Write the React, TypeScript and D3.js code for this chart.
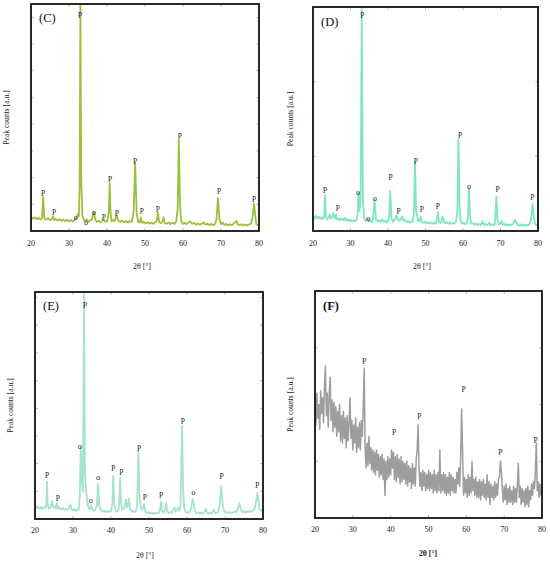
import React from "react";
import * as d3 from "d3";

const xTicks = [20, 30, 40, 50, 60, 70, 80];

// Panel C: [2θ, intensity % of full scale]
const dataC: [number, number][] = [[20,6.2],[20.5,5.4],[21,6.0],[21.5,5.2],[22,5.8],[22.5,5.0],[22.9,5.6],[23.2,15],[23.5,5.4],[24,5.0],[24.5,5.6],[25,4.8],[25.5,5.4],[25.8,6.5],[26.1,4.9],[26.5,5.3],[27,4.6],[27.5,5.2],[28,4.5],[28.5,5.0],[29,4.4],[29.5,4.9],[30,4.3],[30.5,4.8],[31,4.2],[31.5,4.8],[32,6.0],[32.3,7.5],[32.6,6.5],[32.8,20],[33.0,100],[33.2,25],[33.5,7],[33.9,5.0],[34.3,4.2],[34.7,5.2],[35.1,4.0],[35.6,4.6],[36.1,5.5],[36.5,8.5],[36.9,5.2],[37.3,4.0],[37.8,4.5],[38.3,3.8],[38.8,4.6],[39.2,5.0],[39.6,4.0],[40.1,4.4],[40.5,9],[40.7,21],[40.9,9],[41.2,4.2],[41.6,4.8],[42.0,4.4],[42.5,7],[43.0,4.5],[43.5,4.0],[44.0,4.6],[44.5,3.8],[45.0,4.4],[45.5,3.7],[46.0,4.3],[46.5,4.0],[47.0,8],[47.4,30],[47.8,8],[48.2,4.0],[48.6,3.8],[48.9,6],[49.2,3.6],[49.7,4.0],[50.2,3.3],[50.7,3.8],[51.2,3.2],[51.7,3.7],[52.2,3.2],[52.7,3.8],[53.1,4.5],[53.4,8],[53.7,4.0],[54.2,3.4],[54.6,4.2],[54.9,6],[55.2,3.5],[55.7,3.2],[56.2,3.8],[56.7,3.1],[57.2,3.6],[57.7,3.2],[58.2,4.0],[58.6,10],[58.9,40],[59.2,12],[59.5,4.5],[59.9,3.2],[60.4,3.6],[60.9,3.0],[61.4,3.8],[61.9,4.2],[62.4,3.2],[62.9,3.6],[63.4,2.8],[63.9,3.3],[64.4,2.7],[64.9,3.2],[65.4,3.8],[65.9,2.8],[66.4,3.2],[66.9,2.6],[67.4,3.1],[67.9,2.6],[68.4,3.0],[68.8,5],[69.2,14.5],[69.6,5],[70.0,3.0],[70.4,3.8],[70.8,2.7],[71.3,3.1],[71.8,2.5],[72.3,3.0],[72.8,2.6],[73.3,3.1],[73.7,4.0],[74.0,4.5],[74.4,3.0],[74.9,2.6],[75.4,3.0],[75.9,2.4],[76.4,2.9],[76.9,2.4],[77.4,2.9],[77.9,3.2],[78.3,6],[78.7,12],[79.0,7],[79.3,3.0],[79.7,2.6],[80,2.8]];
const labelsC: [number, number, string][] = [[32.9,95.2,"P"],[23.2,16.7,"P"],[26.05,8.4,"P"],[31.8,6.2,"o"],[34.5,4.0,"o"],[36.6,8.4,"o"],[39.2,6.2,"P"],[40.8,22.9,"P"],[42.6,7.9,"P"],[47.4,30.5,"P"],[49.2,8.8,"P"],[53.4,9.7,"P"],[59.2,41.9,"P"],[69.5,17.6,"P"],[78.7,14.1,"P"]];

// Panel D
const dataD: [number, number][] = [[20,6.5],[20.4,5.5],[20.8,6.8],[21.2,5.6],[21.6,6.4],[22,5.4],[22.4,6.2],[22.8,5.6],[23.0,7],[23.2,16],[23.4,6.5],[23.8,5.2],[24.2,6.0],[24.5,7.5],[24.8,5.5],[25.2,6.2],[25.5,8],[25.8,5.6],[26.1,7.2],[26.4,5.0],[26.8,5.8],[27.2,4.8],[27.6,5.6],[28,4.8],[28.4,5.8],[28.8,4.6],[29.2,5.4],[29.6,4.4],[30,5.0],[30.4,4.2],[30.8,4.8],[31.2,4.3],[31.6,5.0],[31.9,8],[32.15,17],[32.4,9],[32.7,14],[33.0,100],[33.3,15],[33.6,6],[34.0,4.5],[34.3,5.0],[34.6,5.6],[34.9,4.2],[35.3,4.6],[35.7,4.0],[36.0,5.0],[36.4,14],[36.8,5.2],[37.2,4.2],[37.6,4.8],[38.0,4.0],[38.4,5.2],[38.8,4.2],[39.2,4.6],[39.6,3.8],[40.0,4.4],[40.3,6],[40.6,18],[40.9,6],[41.3,4.2],[41.7,5.0],[42.0,5.5],[42.3,7],[42.7,5.0],[43.1,4.5],[43.5,5.5],[43.8,6.5],[44.1,4.8],[44.5,5.2],[44.9,4.0],[45.3,4.4],[45.7,3.8],[46.1,4.2],[46.5,4.0],[46.9,7],[47.2,31],[47.5,9],[47.8,6.5],[48.1,4.2],[48.4,4.5],[48.7,6.5],[49.0,4.0],[49.4,3.6],[49.8,4.2],[50.2,3.4],[50.6,4.0],[51.0,3.3],[51.4,3.8],[51.8,3.2],[52.2,3.8],[52.6,3.3],[53.0,4.5],[53.3,8.5],[53.6,4.0],[54.0,3.6],[54.3,4.5],[54.6,6.5],[54.9,4.0],[55.3,3.4],[55.7,3.9],[56.1,3.2],[56.5,3.8],[56.9,3.2],[57.3,3.6],[57.7,3.3],[58.1,4.0],[58.5,9],[58.8,41],[59.1,10],[59.4,4.2],[59.8,3.2],[60.2,3.8],[60.6,3.0],[61.0,3.6],[61.3,6],[61.6,19],[61.9,6],[62.2,3.2],[62.6,3.6],[63.0,2.8],[63.4,3.4],[63.8,2.7],[64.2,3.2],[64.6,2.6],[65.0,3.6],[65.2,4.2],[65.5,2.8],[65.9,3.2],[66.3,2.6],[66.7,3.1],[67.0,3.8],[67.3,2.6],[67.7,3.0],[68.1,2.5],[68.5,3.2],[68.9,15.5],[69.2,4.5],[69.6,3.0],[70.0,3.4],[70.3,4.5],[70.6,2.8],[71.0,3.2],[71.4,2.5],[71.8,3.0],[72.2,2.4],[72.6,3.0],[73.0,2.6],[73.4,3.4],[73.8,5],[74.1,4.0],[74.5,2.8],[74.9,2.4],[75.3,3.0],[75.7,2.3],[76.1,2.9],[76.5,2.3],[76.9,2.8],[77.3,2.4],[77.7,3.2],[78.1,4.5],[78.4,9],[78.6,12],[78.9,6],[79.2,3.2],[79.6,2.6],[80,3.2]];
const labelsD: [number, number, string][] = [[33.15,96.4,"P"],[23.2,18.3,"P"],[26.6,10.1,"P"],[32.0,17.5,"o"],[34.7,5.7,"o"],[36.5,14.6,"o"],[40.7,23.8,"P"],[42.8,8.9,"P"],[47.4,31.3,"P"],[49.0,9.7,"P"],[53.3,10.8,"P"],[59.2,42.9,"P"],[61.6,19.8,"o"],[69.2,18.8,"P"],[78.5,15,"P"]];

// Panel E
const dataE: [number, number][] = [[20,5.8],[20.4,4.8],[20.8,5.6],[21.2,4.6],[21.6,5.4],[22,4.4],[22.4,5.2],[22.8,4.8],[23.0,6.5],[23.15,16.5],[23.35,6],[23.7,4.6],[24.1,5.2],[24.5,8],[24.8,5.0],[25.2,5.5],[25.5,4.6],[25.8,7],[26.1,4.6],[26.5,5.0],[26.9,4.2],[27.3,4.8],[27.7,4.0],[28.1,4.6],[28.5,4.0],[28.9,4.8],[29.3,6.5],[29.6,4.2],[30.0,3.8],[30.4,4.4],[30.8,3.6],[31.2,4.2],[31.5,4.0],[31.8,10],[32.05,32],[32.3,18],[32.6,12],[32.9,99],[33.15,20],[33.4,14],[33.7,8],[34.0,5.5],[34.4,4.2],[34.8,6],[35.1,4.0],[35.5,3.6],[35.9,4.2],[36.3,6],[36.6,15.5],[36.9,6],[37.3,3.8],[37.7,3.2],[38.1,3.8],[38.5,3.0],[38.9,3.6],[39.3,3.0],[39.7,3.4],[40.1,3.6],[40.35,7],[40.6,19],[40.85,7],[41.2,3.6],[41.6,3.2],[42.0,4.2],[42.2,8],[42.4,18],[42.65,7],[42.9,4.0],[43.3,4.4],[43.6,6],[43.9,8.5],[44.2,5.0],[44.45,6],[44.7,9],[45.0,4.6],[45.4,3.2],[45.8,3.6],[46.2,3.0],[46.6,3.6],[46.9,7],[47.2,30],[47.5,10],[47.8,6],[48.1,4.0],[48.4,4.6],[48.7,6.5],[49.0,3.4],[49.4,2.6],[49.8,3.0],[50.2,2.4],[50.6,2.8],[51.0,2.2],[51.4,2.8],[51.8,2.3],[52.2,2.8],[52.6,2.6],[52.9,4],[53.2,7.5],[53.5,3.4],[53.9,3.0],[54.2,4.0],[54.5,7],[54.8,3.4],[55.2,2.6],[55.6,3.0],[56.0,2.8],[56.4,4.0],[56.7,5],[57.0,3.2],[57.4,4.2],[57.7,5],[58.0,3.6],[58.3,6],[58.7,41],[59.0,12],[59.3,4.5],[59.7,3.0],[60.1,2.6],[60.5,3.2],[60.9,3.6],[61.2,6],[61.5,9],[61.8,6],[62.1,3.4],[62.5,2.6],[62.9,3.0],[63.3,2.4],[63.7,2.9],[64.1,2.3],[64.5,2.8],[64.9,4.5],[65.2,3.0],[65.6,2.4],[66.0,2.8],[66.4,2.3],[66.8,3.6],[67.1,4.2],[67.4,2.6],[67.8,2.8],[68.2,3.2],[68.6,6],[69.0,14.5],[69.4,6],[69.8,3.4],[70.2,2.8],[70.6,3.2],[71.0,2.6],[71.4,3.0],[71.8,2.6],[72.2,3.0],[72.6,3.4],[73.0,3.0],[73.4,4.5],[73.8,7],[74.2,4.0],[74.6,3.0],[75.0,3.4],[75.4,2.8],[75.8,3.4],[76.2,3.0],[76.6,3.6],[77.0,3.2],[77.4,3.8],[77.8,4.5],[78.1,7],[78.5,11.5],[78.8,8],[79.1,4.5],[79.5,3.6],[80,4.2]];
const labelsE: [number, number, string][] = [[33.2,94.3,"P"],[31.8,31.9,"o"],[23.2,19.4,"P"],[26.0,9.1,"P"],[34.7,8.4,"o"],[36.6,18.4,"o"],[40.6,22.2,"P"],[42.7,20.4,"P"],[47.4,31.1,"P"],[48.9,9.4,"P"],[53.2,10.6,"P"],[58.9,43.2,"P"],[61.7,11.8,"o"],[69.1,18.6,"P"],[78.5,14.7,"P"]];

// Panel F: intensities sampled every 0.25° from 20° to 80°
const valuesF: number[] = [
  52,41,55,44, 50,39,56,46, 53,42,58,67, 45,55,40,54, 62,43,52,38,
  51,40,49,36, 47,38,50,34, 45,33,47,35, 44,31,45,34, 42,53,35,43,
  30,41,33,44, 29,40,31,42, 30,43,36,48, 66,30,22,33, 23,36,24,31,
  21,30,20,29, 19,30,21,28, 18,27,19,28, 17,26,10,25, 17,27,18,26,
  19,30,22,29, 17,27,16,28, 18,26,15,27, 16,25,17,24, 15,25,14,23,
  16,22,13,24, 15,22,14,26, 30,41,22,14, 20,12,21,14, 20,12,19,13,
  21,12,20,13, 19,11,21,12, 19,11,20,12, 30,11,19,12, 20,11,19,10,
  18,11,20,10, 19,12,18,11, 17,11,20,15, 22,14,26,48, 30,10,18,11,
  17,9,19,10, 18,11,25,12, 17,10,18,9, 16,9,17,8, 16,10,17,9,
  15,8,19,9, 16,6,15,9, 14,8,16,9, 15,10,17,18, 25,21,13,7,
  14,8,15,6, 13,7,14,7, 12,6,14,7, 13,7,15,24, 9,14,6,13,
  7,12,5,13, 6,14,5,12, 8,15,10,16, 13,20,33,12, 16,9,15,10,
  13
];
const dataF: [number, number][] = valuesF.map((v, i) => [20 + i * 0.25, v]);
const labelsF: [number, number, string][] = [[33.0,68.9,"P"],[40.9,37.6,"P"],[47.6,44.9,"P"],[59.3,56.7,"P"],[69.0,28.8,"P"],[78.3,34.4,"P"]];

const SERIF = "'Liberation Serif', 'DejaVu Serif', serif";

type PanelProps = {
  id: string;
  data: [number, number][];
  labels: [number, number, string][];
  color: string;
  lw: number;
  x0: number; x1: number; y0: number; y1: number;
  yDiv: number;
  letter: string; letterX: number; letterY: number;
  tickY: number;
  titleX: number; titleY: number;
  yTitleX: number;
  bold?: boolean;
};

function Panel(p: PanelProps) {
  const xs = d3.scaleLinear().domain([20, 80]).range([p.x0, p.x1]);
  const ys = d3.scaleLinear().domain([0, 100]).range([p.y1, p.y0]);
  const line = d3.line<[number, number]>().x(d => xs(d[0])).y(d => ys(d[1]));
  const yTicks = d3.range(1, Math.ceil(p.yDiv)).map(k => (k * 100) / p.yDiv);
  const tl = 3;
  const tc = "#aaaaaa";
  const yMid = (p.y0 + p.y1) / 2;
  return (
    <g>
      <defs>
        <clipPath id={"clip" + p.id}>
          <rect x={p.x0} y={p.y0} width={p.x1 - p.x0} height={p.y1 - p.y0} />
        </clipPath>
      </defs>
      {yTicks.map((t, i) => (
        <g key={"yt" + i}>
          <line x1={p.x0} x2={p.x0 + tl} y1={ys(t)} y2={ys(t)} stroke={tc} strokeWidth={0.8} />
          <line x1={p.x1} x2={p.x1 - tl} y1={ys(t)} y2={ys(t)} stroke={tc} strokeWidth={0.8} />
        </g>
      ))}
      {xTicks.slice(1, -1).map((t, i) => (
        <g key={"xt" + i}>
          <line x1={xs(t)} x2={xs(t)} y1={p.y1} y2={p.y1 - tl} stroke={tc} strokeWidth={0.8} />
          <line x1={xs(t)} x2={xs(t)} y1={p.y0} y2={p.y0 + tl} stroke={tc} strokeWidth={0.8} />
        </g>
      ))}
      <path d={line(p.data) || ""} fill="none" stroke={p.color} strokeWidth={p.lw} strokeLinejoin="round" clipPath={`url(#clip${p.id})`} />
      <rect x={p.x0} y={p.y0} width={p.x1 - p.x0} height={p.y1 - p.y0} fill="none" stroke="#111" strokeWidth={1.8} />
      {p.labels.map((l, i) => (
        <text key={"l" + i} x={xs(l[0])} y={ys(l[1])} dy="0.35em" textAnchor="middle" fontFamily={SERIF} fontSize={l[2] === "o" ? 8 : 7.5} fill="#222">{l[2]}</text>
      ))}
      <text x={p.letterX} y={p.letterY} fontFamily={SERIF} fontSize={12.5} fontWeight={p.bold ? "bold" : "normal"} fill="#111">{p.letter}</text>
      {xTicks.map((t, i) => (
        <text key={"xl" + i} x={xs(t)} y={p.tickY} textAnchor="middle" fontFamily={SERIF} fontSize={8} fill="#222">{t}</text>
      ))}
      <text x={p.titleX} y={p.titleY} textAnchor="middle" fontFamily={SERIF} fontSize={7.8} fontWeight={p.bold ? "bold" : "normal"} fill="#222">2θ [°]</text>
      <text transform={`translate(${p.yTitleX},${yMid}) rotate(-90)`} textAnchor="middle" dominantBaseline="central" fontFamily={SERIF} fontSize={7.6} fill="#222">Peak counts [a.u.]</text>
    </g>
  );
}

export default function App() {
  return (
    <svg width={550} height={561} style={{ position: "absolute", left: 0, top: 0, background: "#fff" }}>
      <rect width={550} height={561} fill="#fff" />
      <Panel id="C" data={dataC} labels={labelsC} color="#9cc03a" lw={1.8}
        x0={31} x1={259} y0={4} y1={231} yDiv={8.5}
        letter="(C)" letterX={39} letterY={22} tickY={246} titleX={142} titleY={269} yTitleX={6} />
      <Panel id="D" data={dataD} labels={labelsD} color="#7fe6c2" lw={1.8}
        x0={313} x1={538} y0={7} y1={231} yDiv={3}
        letter="(D)" letterX={321} letterY={26} tickY={246} titleX={422} titleY={269} yTitleX={290} />
      <Panel id="E" data={dataE} labels={labelsE} color="#a6e3cb" lw={1.8}
        x0={35} x1={263} y0={292} y1={519} yDiv={8.2}
        letter="(E)" letterX={43} letterY={310} tickY={533} titleX={145} titleY={558} yTitleX={10.5} />
      <Panel id="F" data={dataF} labels={labelsF} color="#9d9d9d" lw={1.5}
        x0={315} x1={542} y0={291} y1={518} yDiv={4}
        letter="(F)" letterX={323} letterY={310} tickY={532} titleX={428} titleY={556} yTitleX={290} bold />
    </svg>
  );
}
